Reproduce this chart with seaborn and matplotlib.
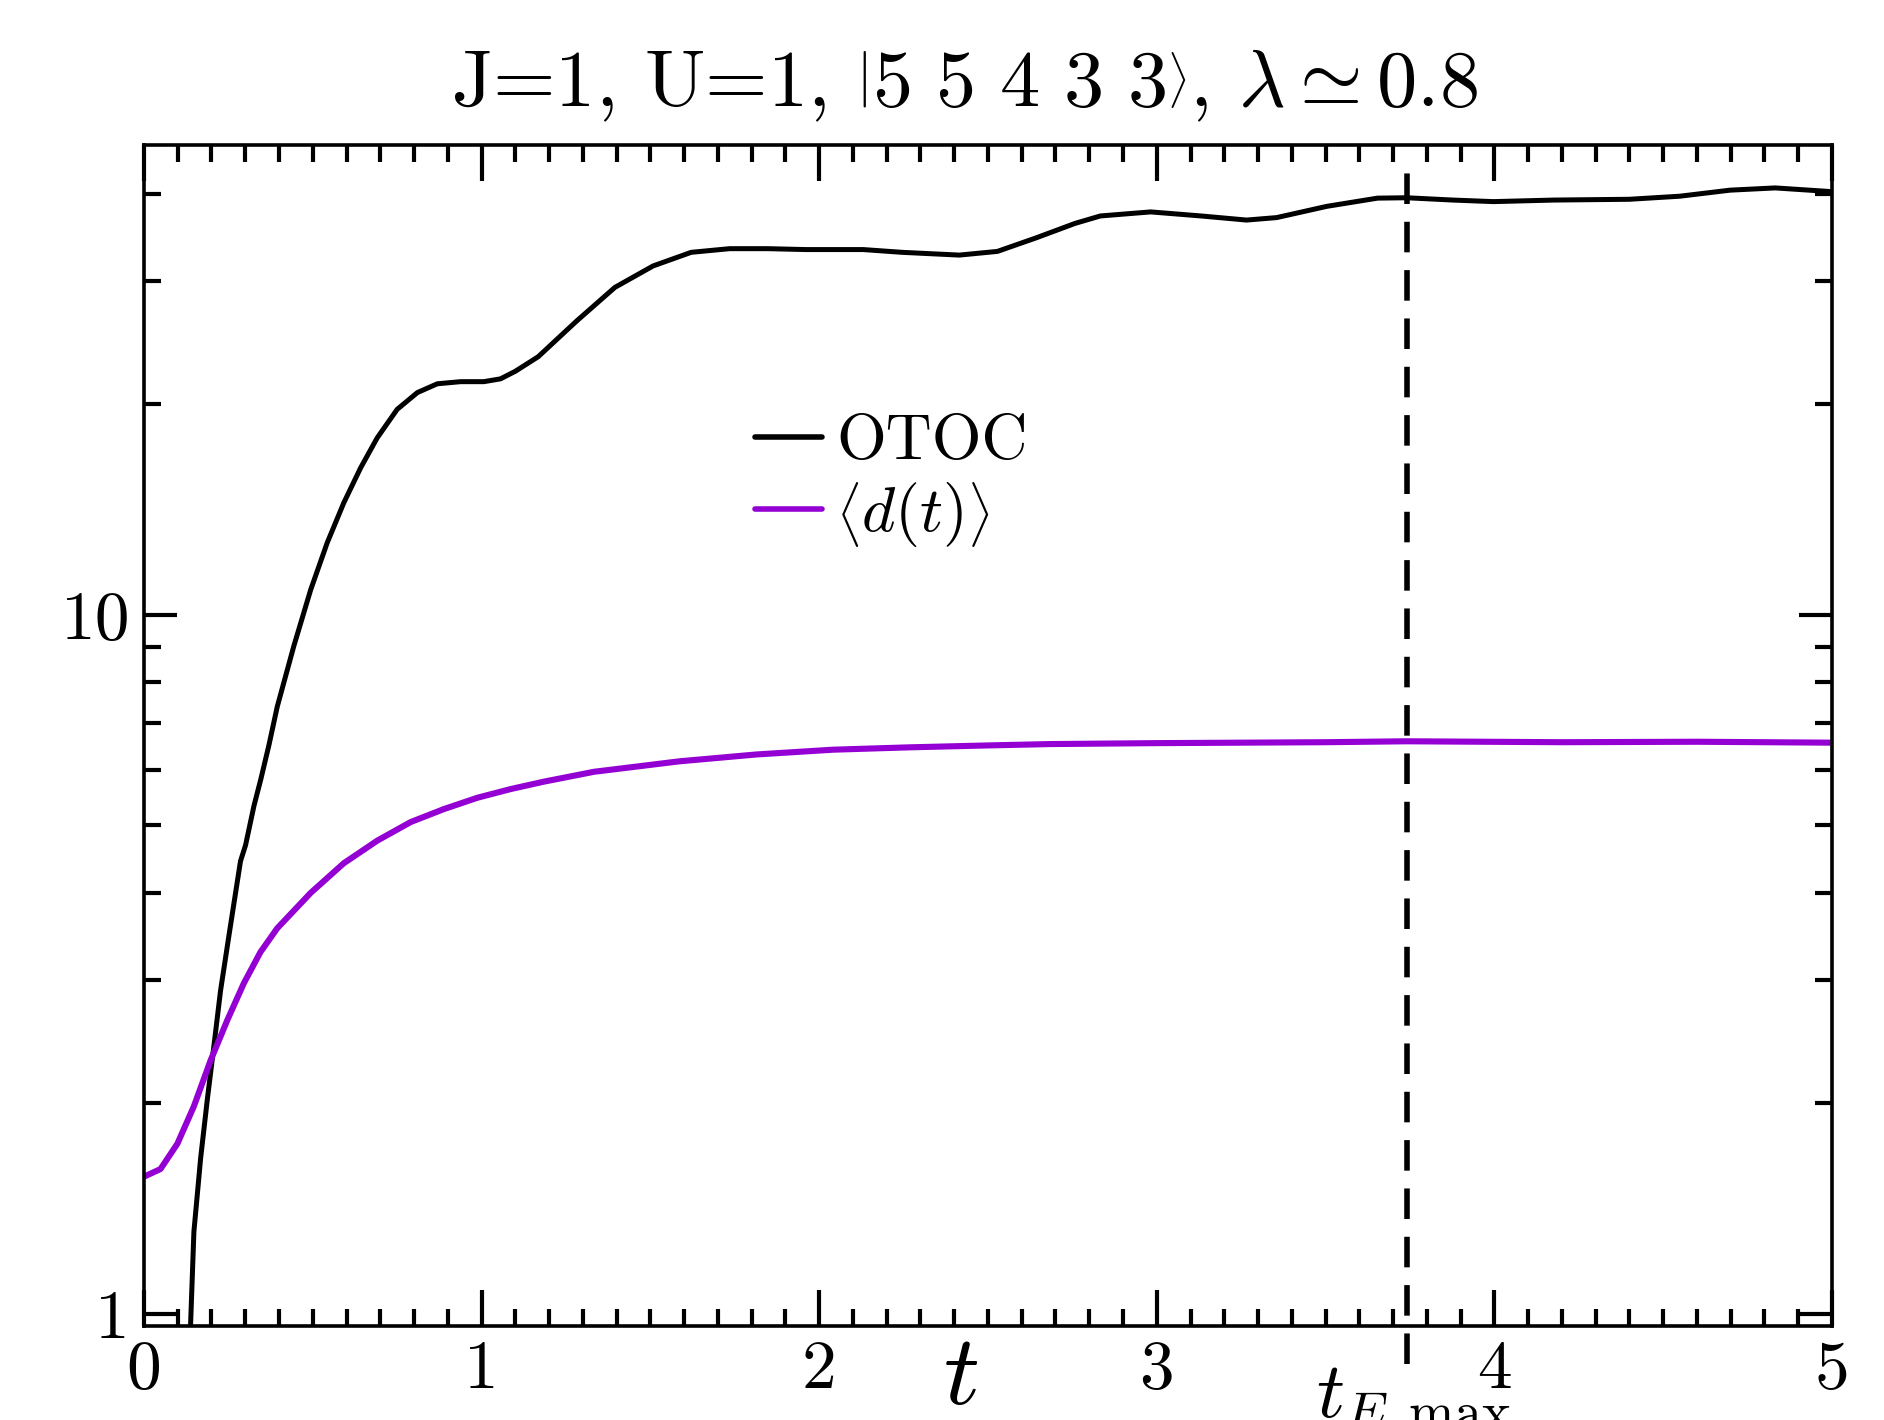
import matplotlib
matplotlib.use("Agg")
import matplotlib.pyplot as plt
import matplotlib.ticker as mticker
import seaborn as sns
import pandas as pd

# OTOC curve (black)
t_otoc = [0.10, 0.12, 0.138, 0.148, 0.168, 0.188, 0.207, 0.227, 0.252, 0.286,
          0.301, 0.326, 0.346, 0.370, 0.395, 0.444, 0.494, 0.543, 0.592, 0.642,
          0.691, 0.750, 0.810, 0.869, 0.938, 1.007, 1.056, 1.10, 1.168, 1.281,
          1.395, 1.508, 1.621, 1.735, 1.848, 1.961, 2.131, 2.245, 2.415, 2.528,
          2.642, 2.758, 2.833, 2.982, 3.131, 3.266, 3.355, 3.504, 3.654, 3.740,
          3.877, 3.997, 4.176, 4.399, 4.549, 4.698, 4.832, 5.0]
otoc = [0.45, 0.70, 0.96, 1.31, 1.67, 2.03, 2.41, 2.90, 3.48, 4.44,
        4.68, 5.33, 5.81, 6.50, 7.39, 9.02, 10.86, 12.68, 14.46, 16.23,
        17.91, 19.67, 20.79, 21.4, 21.55, 21.55, 21.75, 22.3, 23.4, 26.3,
        29.4, 31.55, 33.0, 33.4, 33.4, 33.3, 33.3, 33.0, 32.7, 33.1,
        34.6, 36.3, 37.2, 37.7, 37.2, 36.7, 37.0, 38.4, 39.45, 39.5,
        39.2, 39.0, 39.2, 39.3, 39.7, 40.5, 40.8, 40.3]

# <d(t)> curve (purple)
t_d = [0.0, 0.049, 0.099, 0.148, 0.197, 0.247, 0.296, 0.345, 0.395, 0.494,
       0.592, 0.691, 0.790, 0.888, 0.987, 1.086, 1.185, 1.333, 1.587, 1.814,
       2.041, 2.268, 2.495, 2.684, 3.0, 3.5, 3.74, 4.2, 4.6, 5.0]
d_mean = [1.57, 1.61, 1.75, 1.98, 2.30, 2.63, 2.97, 3.29, 3.56, 4.00,
          4.41, 4.75, 5.05, 5.27, 5.47, 5.63, 5.77, 5.96, 6.17, 6.31,
          6.41, 6.46, 6.50, 6.53, 6.55, 6.57, 6.59, 6.57, 6.58, 6.56]

t_E_max = 3.74
x_ticks = [0, 1, 2, 3, 4, 5]
y_ticks = [1, 10]

sns.set_theme(style="ticks")
plt.rcParams["font.family"] = ["cmr10", "DejaVu Serif"]
plt.rcParams["mathtext.fontset"] = "cm"
plt.rcParams["axes.unicode_minus"] = False
plt.rcParams["axes.formatter.use_mathtext"] = True
plt.rcParams["text.color"] = "black"
plt.rcParams["lines.solid_joinstyle"] = "round"

fig, ax = plt.subplots(figsize=(9.42, 7.1), dpi=200)
fig.subplots_adjust(left=0.0764, right=0.9724, top=0.8979, bottom=0.0662)

df_otoc = pd.DataFrame({"t": t_otoc, "v": otoc})
df_d = pd.DataFrame({"t": t_d, "v": d_mean})
sns.lineplot(data=df_otoc, x="t", y="v", color="black", lw=1.8, ax=ax, label="OTOC")
sns.lineplot(data=df_d, x="t", y="v", color="#9400D3", lw=2.2, ax=ax,
             label=r"$\left\langle d(t)\right\rangle$")

ax.axvline(t_E_max, ymin=-0.032, ymax=0.99, color="black", lw=2.0,
           dashes=(5.5, 3.2), clip_on=False)

ax.set_yscale("log")
ax.set_xlim(0, 5)
ax.set_ylim(0.96, 47)
ax.set_xlabel("")
ax.set_ylabel("")

ax.xaxis.set_major_locator(mticker.FixedLocator(x_ticks))
ax.xaxis.set_major_formatter(mticker.FixedFormatter([str(v) for v in x_ticks]))
ax.xaxis.set_minor_locator(mticker.MultipleLocator(0.1))
ax.yaxis.set_major_locator(mticker.FixedLocator(y_ticks))
ax.yaxis.set_major_formatter(mticker.FixedFormatter([str(v) for v in y_ticks]))
ax.yaxis.set_minor_locator(mticker.LogLocator(base=10, subs=range(2, 10)))
ax.yaxis.set_minor_formatter(mticker.NullFormatter())

ax.tick_params(which="both", direction="in", top=True, right=True, width=1.5,
               color="black", labelsize=25, labelcolor="black")
ax.tick_params(axis="x", which="major", length=13, pad=5)
ax.tick_params(axis="y", which="major", length=12, pad=5)
ax.tick_params(which="minor", length=6)
for sp in ax.spines.values():
    sp.set_linewidth(1.3)
    sp.set_color("black")

leg = ax.legend(loc="upper left", bbox_to_anchor=(0.362, 0.772), frameon=False,
                fontsize=23, handlelength=1.05, handletextpad=0.22,
                borderpad=0, borderaxespad=0, labelspacing=0.12)
for line in leg.get_lines():
    line.set_linewidth(2.0)
for txt in leg.get_texts():
    txt.set_color("black")

fig.text(0.512, 0.925,
         r"J=1, U=1, $\left|5\ 5\ 4\ 3\ 3\right\rangle$, $\lambda \simeq 0.8$",
         ha="center", va="baseline", fontsize=29, color="black")
fig.text(0.510, 0.011, r"$t$", ha="center", va="baseline", fontsize=36, color="black")
fig.text(0.6985, 0.002, r"$t_{E,\mathrm{max}}$", ha="left", va="baseline", fontsize=28,
         color="black")

fig.savefig("out.png", dpi=200)
